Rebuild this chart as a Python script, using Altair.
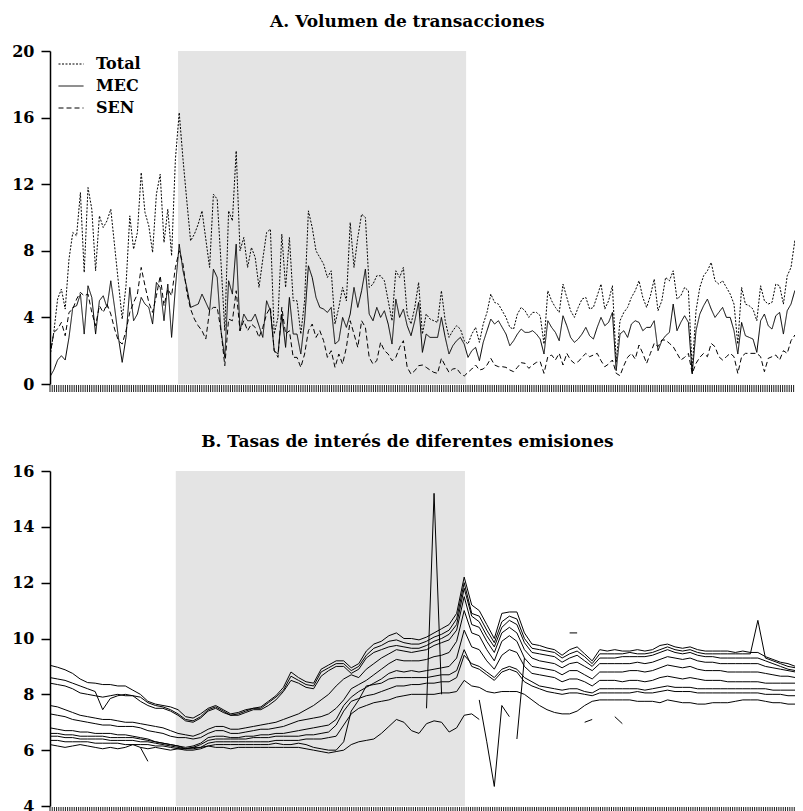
import altair as alt
import pandas as pd

# ---------------- Panel A: volumen de transacciones ----------------
SERIES_A = ["Total", "MEC", "SEN"]
TOTAL = [
    1.7, 3.1, 5.1, 5.7, 4.5, 7.5, 9.1, 8.9, 11.5, 6.7,
    11.8, 10.5, 6.8, 10.1, 9.4, 9.8, 10.5, 8.3, 6.1, 3.9,
    5.9, 10.1, 8.1, 9.1, 12.7, 10.3, 9.5, 7.9, 11.4, 12.6,
    8.5, 10.5, 7.7, 13.5, 16.3, 13.5, 11.0, 8.6, 9.0, 9.6,
    10.4, 8.7, 7.0, 11.4, 11.1, 7.3, 3.2, 10.4, 9.8, 14.0,
    8.0, 8.8, 7.0, 8.2, 7.6, 5.8, 7.5, 9.1, 9.3, 3.0,
    4.0, 9.0, 5.8, 8.8, 5.0, 5.0, 3.0, 5.0, 10.4, 9.4,
    8.0, 7.6, 7.2, 6.4, 6.8, 3.6, 4.6, 5.8, 5.0, 9.7,
    7.0, 8.8, 10.2, 10.0, 5.8, 6.0, 6.5, 6.5, 6.2, 5.0,
    3.8, 6.8, 6.4, 7.0, 4.2, 3.6, 4.6, 6.1, 3.0, 4.2,
    3.9, 3.8, 3.7, 5.6, 3.8, 2.8, 3.2, 3.5, 3.3, 2.6,
    2.4, 3.0, 3.4, 2.5, 3.6, 4.3, 5.4, 4.9, 4.8, 4.4,
    4.0, 3.4, 3.3, 4.2, 4.6, 4.4, 4.0, 4.3, 4.3, 4.1,
    2.4, 5.6, 5.0, 4.6, 4.3, 6.0, 5.2, 4.4, 4.0, 4.6,
    5.1, 5.2, 4.5, 4.6, 5.3, 6.0, 4.5, 5.0, 5.9, 1.3,
    3.8, 4.3, 4.6, 5.2, 5.6, 6.2, 5.2, 4.6, 5.3, 6.3,
    4.4, 5.0, 6.4, 6.2, 6.8, 5.1, 5.3, 5.8, 5.6, 0.9,
    4.4, 5.8, 6.5, 6.8, 7.3, 6.2, 6.0, 6.2, 5.8, 5.4,
    4.8, 2.4, 5.8, 4.8, 4.7, 4.5, 3.8, 5.9, 5.0, 4.8,
    4.9, 6.0, 5.9, 4.8, 6.5, 7.0, 8.6, 7.3, 7.9]
MEC = [
    0.44, 0.84, 1.44, 1.7, 1.44, 2.8, 4.6, 4.7, 5.4, 3.0,
    5.9, 5.2, 3.0, 5.0, 5.3, 4.6, 6.2, 4.6, 2.8, 1.3,
    2.8, 5.8, 3.8, 4.2, 5.2, 4.8, 4.6, 3.6, 6.1, 5.8,
    3.8, 6.0, 2.8, 5.8, 8.4, 6.8, 5.8, 4.6, 4.7, 4.8,
    5.4, 4.9, 4.4, 6.9, 6.4, 3.2, 1.6, 6.2, 5.4, 8.4,
    3.2, 4.2, 3.8, 3.8, 4.2, 3.5, 2.8, 5.0, 4.4, 2.0,
    1.8, 4.2, 2.2, 5.2, 3.0, 3.0, 1.8, 3.8, 7.1, 6.4,
    5.2, 4.6, 4.5, 4.3, 4.6, 2.4, 2.6, 4.0, 3.4, 4.2,
    5.8, 4.6, 5.6, 6.9, 4.2, 3.8, 4.6, 4.0, 4.4, 3.6,
    2.4, 5.1, 4.0, 4.5, 3.5, 2.9, 3.8, 4.9, 1.9, 3.0,
    2.8, 2.8, 2.8, 4.0, 2.8, 1.8, 2.3, 2.6, 2.8, 2.4,
    1.6, 2.0, 2.2, 1.4, 2.5, 3.2, 3.9, 3.6, 3.8, 3.4,
    3.0, 2.3, 2.6, 3.0, 3.3, 3.1, 3.1, 3.2, 3.0, 2.7,
    1.8, 3.8, 3.4, 3.1, 2.6, 4.1, 3.5, 2.8, 2.5, 2.7,
    3.0, 3.4, 2.9, 2.7, 3.4, 4.0, 3.5, 3.7, 4.3, 0.8,
    3.0, 3.2, 2.8, 3.6, 3.8, 3.7, 3.2, 3.4, 3.4, 3.8,
    2.0, 2.6, 2.9, 3.1, 4.8, 3.2, 3.7, 4.1, 3.7, 0.6,
    3.2, 4.2, 4.7, 5.1, 4.5, 4.0, 4.3, 4.6, 4.0, 4.0,
    3.2, 1.8, 3.7, 2.9, 2.8, 2.7, 1.9, 3.8, 4.2, 3.5,
    3.3, 4.1, 4.3, 3.0, 4.4, 4.8, 5.6, 5.3, 5.4]
SEN = [
    1.7, 3.1, 3.3, 3.7, 2.9, 4.3, 4.5, 5.1, 5.5, 5.3,
    5.4, 4.3, 3.5, 4.7, 4.3, 4.8, 4.2, 3.3, 2.6, 2.4,
    3.2, 4.3, 4.9, 5.4, 7.0, 5.9, 4.9, 4.3, 5.3, 6.5,
    4.7, 5.7, 5.3, 7.0, 8.0, 7.2, 5.5, 4.5, 3.9, 3.5,
    3.2, 2.7, 4.4, 4.6, 4.6, 3.2, 1.1, 3.9, 3.8, 5.6,
    3.2, 3.8, 3.2, 3.6, 3.4, 2.8, 3.4, 4.2, 4.6, 2.0,
    1.6, 4.6, 3.0, 3.2, 1.6, 1.6, 1.0, 1.8, 3.2, 3.6,
    2.8, 3.2, 2.6, 1.6, 2.0, 1.0, 1.8, 1.2, 2.2, 3.8,
    3.0, 2.2, 3.8, 3.4, 1.6, 1.2, 1.4, 2.5, 2.0, 1.8,
    1.4, 1.6, 2.2, 2.6, 1.0, 0.6, 0.8, 1.1, 1.14, 1.0,
    0.84, 0.7, 0.64, 1.54, 1.1, 0.7, 0.9, 0.94, 0.64, 0.48,
    0.7, 0.9, 1.14, 0.84, 0.9, 1.14, 1.54, 1.14, 1.04, 1.04,
    1.0, 0.84, 0.74, 1.0, 1.28, 1.24, 0.94, 1.14, 1.3, 1.34,
    0.64, 1.64, 1.74, 1.44, 1.84, 1.14, 1.84, 1.44, 1.24, 1.34,
    1.6, 1.84, 1.64, 1.74, 1.84, 1.4, 1.04, 1.2, 1.44, 0.64,
    0.5, 1.1, 1.6, 1.84, 1.5, 2.34, 1.84, 1.24, 1.84, 2.44,
    2.24, 2.64, 2.64, 2.44, 2.24, 1.84, 1.44, 1.6, 1.84, 0.64,
    1.24, 1.6, 1.84, 1.64, 2.44, 2.24, 1.64, 1.44, 1.64, 1.84,
    1.64, 0.64, 1.64, 1.84, 1.84, 1.84, 1.84, 1.64, 0.74, 1.54,
    1.64, 1.74, 1.44, 2.0, 1.84, 2.6, 2.94, 2.1, 2.44]
SHADE_A = [33.7, 109.5]
VIEW_A = [0, 196.05]          # visible part of the weekly index
Y_TICKS_A = [0, 4, 8, 12, 16, 20]

# ---------------- Panel B: tasas de interés ----------------
B1 = [9.04, 8.97, 8.88, 8.75, 8.55, 8.42, 8.4, 8.35, 8.35, 8.3,
      8.3, 8.15, 8.0, 7.75, 7.65, 7.6, 7.55, 7.45, 7.2, 7.15,
      7.3, 7.5, 7.6, 7.45, 7.3, 7.35, 7.45, 7.5, 7.55, 7.75,
      7.95, 8.25, 8.8, 8.6, 8.45, 8.4, 8.9, 9.05, 9.2, 9.2,
      8.95, 9.1, 9.55, 9.8, 9.9, 10.1, 10.2, 10.0, 10.0, 9.95,
      10.05, 10.2, 10.35, 10.5, 10.9, 12.2, 11.2, 11.0, 10.5, 10.0,
      10.9, 10.95, 10.95, 10.2, 9.8, 9.75, 9.66, 9.6, 9.4, 9.6,
      9.7, 9.45, 9.2, 9.6, 9.55, 9.6, 9.55, 9.55, 9.6, 9.55,
      9.6, 9.75, 9.8, 9.7, 9.65, 9.7, 9.6, 9.55, 9.55, 9.55,
      9.55, 9.5, 9.55, 9.5, 9.5, 9.35, 9.25, 9.15, 9.1, 9.0, 8.95]
B2 = [8.6, 8.55, 8.5, 8.4, 8.3, 8.2, 8.1, 7.45, 7.85, 7.95,
      8.0, 7.95, 7.9, 7.7, 7.6, 7.55, 7.45, 7.3, 7.1, 7.05,
      7.2, 7.45, 7.55, 7.4, 7.25, 7.3, 7.4, 7.5, 7.5, 7.7,
      7.9, 8.15, 8.65, 8.5, 8.35, 8.3, 8.8, 8.95, 9.1, 9.1,
      8.85, 9.0, 9.4, 9.65, 9.75, 9.9, 9.95, 9.85, 9.8, 9.8,
      9.9, 10.05, 10.15, 10.3, 10.7, 12.0, 10.9, 10.8, 10.3, 9.85,
      10.6, 10.8, 10.7, 10.0, 9.65, 9.6, 9.55, 9.5, 9.3, 9.45,
      9.55, 9.35, 9.1, 9.45, 9.45, 9.45, 9.45, 9.5, 9.45, 9.45,
      9.5, 9.6, 9.7, 9.6, 9.55, 9.6, 9.5, 9.45, 9.45, 9.45,
      9.45, 9.45, 9.45, 9.45, 10.65, 9.3, 9.2, 9.1, 9.0, 8.95, 8.9]
B3 = [8.4, 8.35, 8.3, 8.2, 8.05, 8.0, 7.95, 7.9, 7.95, 8.0,
      7.95, 7.95, 7.75, 7.6, 7.5, 7.5, 7.4, 7.25, 7.05, 7.0,
      7.15, 7.4, 7.5, 7.35, 7.25, 7.25, 7.35, 7.45, 7.45, 7.6,
      7.8, 8.1, 8.5, 8.4, 8.25, 8.2, 8.65, 8.85, 9.0, 9.0,
      8.75, 8.9, 9.3, 9.5, 9.6, 9.7, 9.75, 9.7, 9.65, 9.65,
      9.75, 9.9, 10.0, 10.15, 10.5, 11.8, 10.8, 10.6, 10.1, 9.7,
      10.4, 10.65, 10.5, 9.85, 9.5, 9.45, 9.4, 9.35, 9.15, 9.3,
      9.4, 9.2, 9.0, 9.3, 9.3, 9.3, 9.35, 9.35, 9.35, 9.35,
      9.4, 9.5, 9.6, 9.5, 9.45, 9.5, 9.4, 9.35, 9.35, 9.3,
      9.3, 9.3, 9.3, 9.3, 9.3, 9.2, 9.1, 9.0, 8.9, 8.85, 8.8]
B4 = [7.6, 7.55, 7.45, 7.35, 7.25, 7.2, 7.15, 7.1, 7.1, 7.05,
      7.0, 7.0, 6.95, 6.9, 6.85, 6.8, 6.7, 6.6, 6.55, 6.5,
      6.6, 6.75, 6.85, 6.85, 6.75, 6.75, 6.8, 6.85, 6.9, 6.95,
      7.0, 7.1, 7.2, 7.3, 7.45, 7.6, 7.8, 8.0, 8.3, 8.55,
      8.7, 8.6, 8.9, 9.1, 9.3, 9.45, 9.6, 9.55, 9.5, 9.55,
      9.6, 9.75, 9.85, 9.95, 10.3, 11.5, 10.5, 10.4, 9.9, 9.5,
      10.2, 10.4, 10.2, 9.6, 9.3, 9.2, 9.15, 9.1, 8.95, 9.1,
      9.15, 9.0, 8.85, 9.1, 9.1, 9.1, 9.1, 9.1, 9.15, 9.1,
      9.15, 9.25, 9.35, 9.3, 9.25, 9.3, 9.2, 9.15, 9.15, 9.1,
      9.1, 9.1, 9.1, 9.1, 9.1, 9.0, 8.95, 8.9, 8.85, 8.8, 8.75]
B5 = [7.3, 7.25, 7.2, 7.1, 7.05, 7.0, 6.95, 6.9, 6.9, 6.85,
      6.85, 6.85, 6.8, 6.7, 6.65, 6.6, 6.5, 6.45, 6.45, 6.4,
      6.45, 6.6, 6.7, 6.7, 6.6, 6.6, 6.65, 6.7, 6.75, 6.75,
      6.8, 6.85, 6.95, 7.05, 7.1, 7.15, 7.2, 7.3, 7.5, 7.8,
      8.2, 8.35, 8.5, 8.7, 8.9, 9.1, 9.25, 9.2, 9.2, 9.2,
      9.25, 9.35, 9.4, 9.5, 9.9, 11.0, 10.2, 10.1, 9.6, 9.2,
      9.9, 10.1, 9.9, 9.3, 9.0, 8.95, 8.9, 8.85, 8.7, 8.85,
      8.85, 8.7, 8.55, 8.8, 8.8, 8.8, 8.8, 8.85, 8.85, 8.8,
      8.85, 8.95, 9.05, 9.0, 8.95, 9.0, 8.9, 8.85, 8.85, 8.85,
      8.8, 8.8, 8.8, 8.8, 8.8, 8.75, 8.7, 8.65, 8.65, 8.6, 8.6]
B6 = [6.8, 6.75, 6.7, 6.7, 6.65, 6.65, 6.6, 6.6, 6.6, 6.55,
      6.55, 6.5, 6.45, 6.4, 6.3, 6.25, 6.2, 6.15, 6.1, 6.15,
      6.25, 6.45, 6.5, 6.5, 6.45, 6.45, 6.5, 6.5, 6.55, 6.55,
      6.6, 6.6, 6.65, 6.7, 6.75, 6.8, 6.85, 6.9, 7.1, 7.6,
      7.9, 8.1, 8.25, 8.4, 8.55, 8.75, 8.85, 8.8, 8.85, 8.8,
      8.85, 8.9, 8.95, 9.0, 9.3, 10.3, 9.7, 9.6, 9.2, 8.9,
      9.4, 9.6, 9.5, 9.0, 8.75, 8.7, 8.65, 8.6, 8.45, 8.55,
      8.55, 8.45, 8.3, 8.5, 8.5, 8.5, 8.45, 8.5, 8.5, 8.45,
      8.5, 8.6, 8.65, 8.6, 8.55, 8.6, 8.55, 8.5, 8.5, 8.5,
      8.45, 8.45, 8.45, 8.45, 8.45, 8.4, 8.4, 8.4, 8.4, 8.4, 8.4]
B7 = [6.6, 6.6, 6.55, 6.55, 6.5, 6.5, 6.5, 6.5, 6.45, 6.45,
      6.45, 6.45, 6.4, 6.35, 6.3, 6.25, 6.2, 6.15, 6.05, 6.1,
      6.2, 6.35, 6.4, 6.4, 6.4, 6.4, 6.4, 6.45, 6.45, 6.45,
      6.5, 6.5, 6.5, 6.5, 6.55, 6.55, 6.6, 6.65, 6.9, 7.4,
      7.75, 7.85, 7.95, 8.0, 8.1, 8.2, 8.3, 8.3, 8.35, 8.35,
      8.4, 8.4, 8.45, 8.45, 8.6, 9.4, 9.1, 9.0, 8.8, 8.6,
      8.9, 9.0, 8.9, 8.6, 8.45, 8.3, 8.25, 8.2, 8.15, 8.2,
      8.2, 8.1, 8.05, 8.2, 8.2, 8.2, 8.2, 8.2, 8.2, 8.15,
      8.2, 8.25, 8.3, 8.25, 8.25, 8.25, 8.2, 8.2, 8.2, 8.2,
      8.2, 8.2, 8.2, 8.2, 8.2, 8.2, 8.15, 8.15, 8.15, 8.15, 8.15]
B8 = [6.5, 6.5, 6.45, 6.45, 6.4, 6.4, 6.4, 6.4, 6.35, 6.35,
      6.35, 6.35, 6.3, 6.3, 6.25, 6.2, 6.15, 6.1, 6.05, 6.05,
      6.1, 6.25, 6.3, 6.3, 6.3, 6.3, 6.3, 6.3, 6.3, 6.3,
      6.35, 6.35, 6.35, 6.35, 6.4, 6.4, 6.4, 6.45, 6.5, 6.9,
      7.3, 7.5, 7.6, 7.7, 7.75, 7.8, 7.9, 7.95, 8.0, 8.0,
      8.0, 8.0, 8.05, 8.05, 8.1, 8.5, 8.3, 8.25, 8.1, 8.05,
      8.1, 8.1, 8.1, 8.0, 7.8, 7.6, 7.45, 7.35, 7.3, 7.3,
      7.4, 7.6, 7.75, 7.8, 7.8, 7.8, 7.8, 7.8, 7.75, 7.75,
      7.75, 7.7, 7.8, 7.75, 7.7, 7.7, 7.65, 7.65, 7.7, 7.7,
      7.7, 7.75, 7.8, 7.8, 7.8, 7.75, 7.7, 7.7, 7.65, 7.65, 7.6]
B9 = [6.35, 6.35, 6.3, 6.3, 6.3, 6.3, 6.25, 6.25, 6.25, 6.25,
      6.2, 6.2, 6.2, 6.2, 6.15, 6.15, 6.1, 6.05, 6.0, 6.0,
      6.05, 6.15, 6.2, 6.2, 6.2, 6.2, 6.2, 6.2, 6.2, 6.2,
      6.25, 6.2, 6.2, 6.25, 6.2, 6.1, 6.05, 6.0, 6.0, 6.3,
      7.4, 7.8, 8.3, 8.35, 8.4, 8.55, 8.6, 8.6, 8.6, 8.6,
      8.6, 8.65, 8.7, 8.7, 8.85, 9.6, 9.0, 8.9, 8.7, 8.5,
      8.8, 8.9, 8.8, 8.45, 8.3, 8.2, 8.1, 8.05, 8.0, 8.05,
      8.05, 8.0, 7.95, 8.05, 8.05, 8.05, 8.05, 8.05, 8.1, 8.05,
      8.05, 8.1, 8.15, 8.1, 8.1, 8.1, 8.05, 8.05, 8.05, 8.05,
      8.05, 8.05, 8.05, 8.05, 8.05, 8.0, 8.0, 8.0, 7.95, 7.95, 7.9]
B10 = [6.2, 6.15, 6.1, 6.15, 6.2, 6.15, 6.1, 6.05, 6.1, 6.05,
       6.1, 6.2, 6.1, 6.05, 6.1, 6.05, 6.0, 6.05, 6.05, 6.1,
       6.1, 6.15, 6.1, 6.1, 6.05, 6.1, 6.1, 6.1, 6.1, 6.1,
       6.1, 6.1, 6.1, 6.1, 6.05, 6.0, 5.95, 5.9, 5.95, 6.0,
       6.2, 6.3, 6.35, 6.4, 6.6, 6.85, 7.1, 7.0, 6.7, 6.6,
       6.95, 7.05, 7.0, 6.65, 6.8, 7.25, 7.3, 7.1]
B_LINES = {"b1": B1, "b2": B2, "b3": B3, "b4": B4, "b5": B5,
           "b6": B6, "b7": B7, "b8": B8, "b9": B9, "b10": B10}
# short broken pieces (week index -> rate)
B_PIECES = {
    "p1": {12: 6.1, 13: 5.6},
    "p2": {50: 7.5, 51: 15.2, 52: 8.0},
    "p3": {57: 7.8, 58: 6.3, 59: 4.7, 60: 7.6, 61: 7.2},
    "p4": {62: 6.4, 63: 9.3},
    "p5": {69: 10.2, 70: 10.2},
    "p6": {71: 7.0, 72: 7.1},
    "p7": {75: 7.2, 76: 6.95},
}
SHADE_B = [16.7, 55.1]
VIEW_B = [0, 98.93]
Y_TICKS_B = [4, 6, 8, 10, 12, 14, 16]

FONT = "DejaVu Serif"
W = 745
HA = 333
HB = 335
TICK_LEN = 7
TICK_STEP_A = 198 / 342
TICK_STEP_B = 100 / 342

# ---------- frames ----------
rowsA = []
for name, vals in zip(SERIES_A, [TOTAL, MEC, SEN]):
    for i, v in enumerate(vals):
        rowsA.append({"i": i, "v": v, "s": name})
dfA = pd.DataFrame(rowsA)

rowsB = []
for name, vals in B_LINES.items():
    for j, v in enumerate(vals):
        rowsB.append({"j": j, "v": v, "s": name})
for name, piece in B_PIECES.items():
    for j, v in piece.items():
        rowsB.append({"j": j, "v": v, "s": name})
dfB = pd.DataFrame(rowsB)


def tick_values(step, top):
    out, k = [], 0
    while k * step <= top + 1e-9:
        out.append(round(k * step, 4))
        k += 1
    return out


ticksA = tick_values(TICK_STEP_A, VIEW_A[1])
ticksB = tick_values(TICK_STEP_B, VIEW_B[1])


def x_axis():
    return alt.Axis(labels=False, ticks=False, title=None, grid=False,
                    domainColor="black", domainWidth=1.5)


def y_axis(vals):
    return alt.Axis(values=vals, title=None, grid=False, domainColor="black",
                    domainWidth=1.5, tickColor="black", tickWidth=1.5, tickSize=9,
                    labelFont=FONT, labelFontSize=16, labelFontWeight="bold",
                    labelColor="black", labelPadding=7)


def title(text):
    return alt.Title(text, font=FONT, fontSize=17, fontWeight="bold", color="black",
                     anchor="middle", frame="bounds", offset=12, dx=4)


def week_ticks(vals, scale, h):
    # dense week ticks hanging below the time axis
    return alt.Chart(pd.DataFrame({"t": vals})).mark_rule(
        color="black", strokeWidth=0.9).encode(
        x=alt.X("t:Q", scale=scale, axis=None),
        y=alt.value(h + 1), y2=alt.value(h + 1 + TICK_LEN))


xsA = alt.Scale(domain=VIEW_A, nice=False, zero=False)
xsB = alt.Scale(domain=VIEW_B, nice=False, zero=False)

shadeA = alt.Chart(pd.DataFrame({"a": [SHADE_A[0]], "b": [SHADE_A[1]]})).mark_rect(
    color="#e4e4e4").encode(
    x=alt.X("a:Q", scale=xsA, axis=None), x2="b:Q",
    y=alt.value(0), y2=alt.value(HA))

linesA = alt.Chart(dfA).mark_line(color="black", strokeWidth=1, clip=True).encode(
    x=alt.X("i:Q", scale=xsA, axis=x_axis()),
    y=alt.Y("v:Q", scale=alt.Scale(domain=[0, 20], nice=False), axis=y_axis(Y_TICKS_A)),
    strokeDash=alt.StrokeDash(
        "s:N",
        scale=alt.Scale(domain=SERIES_A, range=[[2, 1.5], [1, 0], [5, 3]]),
        legend=alt.Legend(title=None, orient="none", legendX=8, legendY=0,
                          symbolType="stroke", symbolSize=625, symbolStrokeWidth=1,
                          symbolStrokeColor="black", labelFont=FONT, labelFontSize=16,
                          labelFontWeight="bold", labelColor="black", labelOffset=12,
                          rowPadding=1)),
)

chartA = alt.layer(shadeA, week_ticks(ticksA, xsA, HA), linesA).properties(
    width=W, height=HA, title=title("A. Volumen de transacciones"))

shadeB = alt.Chart(pd.DataFrame({"a": [SHADE_B[0]], "b": [SHADE_B[1]]})).mark_rect(
    color="#e4e4e4").encode(
    x=alt.X("a:Q", scale=xsB, axis=None), x2="b:Q",
    y=alt.value(0), y2=alt.value(HB))

linesB = alt.Chart(dfB).mark_line(color="black", strokeWidth=1, clip=True).encode(
    x=alt.X("j:Q", scale=xsB, axis=x_axis()),
    y=alt.Y("v:Q", scale=alt.Scale(domain=[4, 16], nice=False), axis=y_axis(Y_TICKS_B)),
    detail="s:N",
)

chartB = alt.layer(shadeB, week_ticks(ticksB, xsB, HB), linesB).properties(
    width=W, height=HB, title=title("B. Tasas de interés de diferentes emisiones"))

chart = alt.vconcat(chartA, chartB, spacing=40).properties(
    padding={"left": 3, "top": 5, "right": 0, "bottom": 0}
).configure_view(stroke=None)

chart.save("out.html", embed_options={"renderer": "svg", "actions": False})
